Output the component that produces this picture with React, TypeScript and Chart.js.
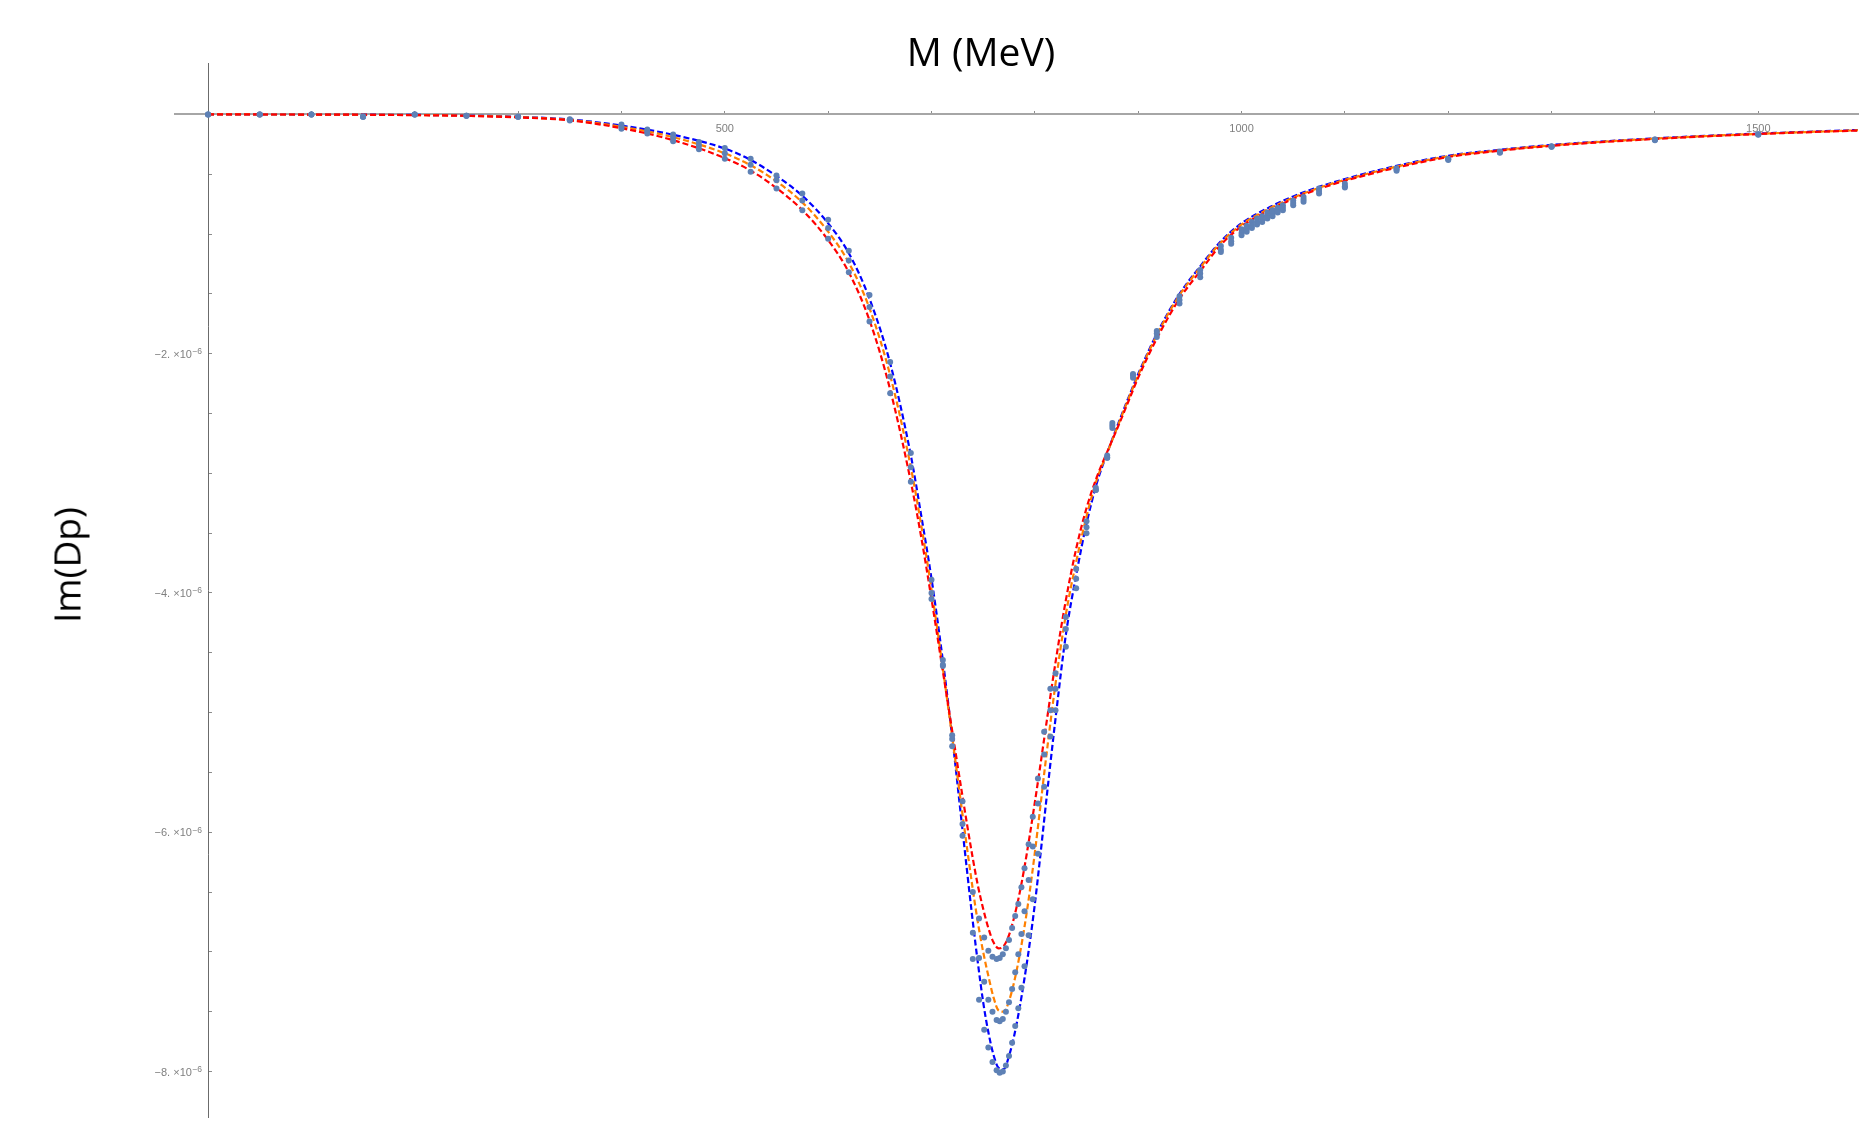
import React, { useEffect, useRef } from "react";
import { Chart, registerables } from "chart.js";

Chart.register(...registerables);

// Invariant mass M (MeV) where the three fitted curves are sampled
const curveM = [0, 100, 200, 250, 300, 350, 400, 450, 500, 525, 550, 575, 600, 620, 640, 660, 680, 690, 700,
  710, 720, 730, 740, 745, 750, 755, 760, 765, 770, 775, 780, 785, 790, 795, 800, 805, 810, 820, 830,
  840, 850, 860, 870, 880, 890, 900, 920, 940, 960, 980, 1000, 1025, 1050, 1075, 1100, 1150, 1200, 1250,
  1300, 1400, 1500, 1597];

// Im(Dp) in units of 1e-6
const curveBlue = [0, -0.001, -0.004, -0.009, -0.02, -0.042, -0.093, -0.17, -0.285, -0.38, -0.515, -0.68, -0.91,
  -1.16, -1.54, -2.08, -2.85, -3.35, -3.88, -4.5, -5.2, -5.98, -6.75, -7.1, -7.42, -7.67, -7.86, -7.97, -7.98,
  -7.87, -7.7, -7.48, -7.22, -6.93, -6.6, -6.22, -5.82, -5.05, -4.35, -3.85, -3.42, -3.08, -2.83, -2.6, -2.38,
  -2.17, -1.8, -1.5, -1.27, -1.06, -0.91, -0.785, -0.685, -0.605, -0.54, -0.43, -0.345, -0.295, -0.255, -0.2,
  -0.16, -0.13];

const curveOrange = [0, -0.001, -0.005, -0.01, -0.022, -0.046, -0.103, -0.19, -0.325, -0.425, -0.56, -0.735, -0.98,
  -1.24, -1.62, -2.18, -2.95, -3.43, -3.97, -4.57, -5.2, -5.85, -6.48, -6.76, -7.0, -7.2, -7.38, -7.49, -7.5,
  -7.41, -7.25, -7.04, -6.79, -6.5, -6.17, -5.81, -5.44, -4.76, -4.18, -3.74, -3.36, -3.05, -2.83, -2.61, -2.39,
  -2.18, -1.81, -1.51, -1.28, -1.07, -0.92, -0.795, -0.695, -0.613, -0.547, -0.436, -0.35, -0.299, -0.258, -0.202,
  -0.162, -0.132];

const curveRed = [0, -0.001, -0.006, -0.012, -0.025, -0.05, -0.115, -0.215, -0.365, -0.47, -0.615, -0.8, -1.05,
  -1.32, -1.72, -2.3, -3.07, -3.53, -4.05, -4.6, -5.15, -5.7, -6.22, -6.45, -6.64, -6.8, -6.92, -6.97, -6.95,
  -6.86, -6.71, -6.52, -6.29, -6.03, -5.75, -5.46, -5.16, -4.58, -4.06, -3.63, -3.29, -3.03, -2.82, -2.62, -2.41,
  -2.2, -1.84, -1.54, -1.31, -1.09, -0.935, -0.81, -0.705, -0.622, -0.555, -0.445, -0.356, -0.303, -0.262, -0.205,
  -0.164, -0.134];

// Data points: M (MeV) and three sets of Im(Dp) (units of 1e-6)
const pointM = [0, 50, 100, 150, 200, 250, 300, 350, 400, 425, 450, 475, 500, 525, 550, 575, 600, 620, 640, 660,
  680, 700, 711, 720, 730, 740, 746, 751, 755, 759, 763, 766, 769, 772, 775, 778, 781, 784, 787, 790, 794, 798,
  803, 809, 815, 820, 830, 840, 850, 859, 870, 875, 895, 918, 940, 960, 980, 990, 1000, 1005, 1010, 1015, 1020,
  1025, 1030, 1035, 1040, 1050, 1060, 1075, 1100, 1150, 1200, 1250, 1300, 1400, 1500];

const pointSetA = [0, 0, 0, -0.02, 0, -0.01, -0.02, -0.04, -0.085, -0.125, -0.167, -0.23, -0.28, -0.37, -0.51,
  -0.66, -0.88, -1.14, -1.51, -2.07, -2.83, -3.89, -4.56, -5.28, -6.03, -7.06, -7.4, -7.65, -7.8, -7.92, -7.99,
  -8.01, -8.0, -7.95, -7.87, -7.76, -7.62, -7.47, -7.3, -7.12, -6.86, -6.56, -6.18, -5.62, -5.2, -4.98, -4.45,
  -3.96, -3.5, -3.14, -2.87, -2.62, -2.17, -1.81, -1.52, -1.3, -1.1, -1.03, -0.96, -0.93, -0.9, -0.87, -0.85,
  -0.82, -0.8, -0.78, -0.76, -0.72, -0.69, -0.62, -0.58, -0.45, -0.37, -0.31, -0.265, -0.21, -0.165];

const pointSetB = [0, 0, 0, -0.02, 0, -0.01, -0.02, -0.045, -0.1, -0.14, -0.194, -0.26, -0.325, -0.42, -0.55,
  -0.72, -0.95, -1.22, -1.61, -2.19, -2.95, -4.0, -4.6, -5.22, -5.93, -6.84, -7.05, -7.25, -7.4, -7.5, -7.57,
  -7.58, -7.56, -7.5, -7.42, -7.31, -7.17, -7.02, -6.85, -6.66, -6.4, -6.12, -5.76, -5.35, -4.98, -4.8, -4.3,
  -3.88, -3.45, -3.14, -2.87, -2.6, -2.18, -1.83, -1.55, -1.33, -1.13, -1.06, -0.99, -0.96, -0.93, -0.9, -0.88,
  -0.85, -0.83, -0.8, -0.78, -0.74, -0.71, -0.64, -0.6, -0.46, -0.375, -0.315, -0.27, -0.21, -0.165];

const pointSetC = [0, 0, 0, -0.02, 0, -0.01, -0.02, -0.05, -0.12, -0.16, -0.225, -0.29, -0.37, -0.48, -0.62,
  -0.8, -1.04, -1.32, -1.73, -2.33, -3.07, -4.05, -4.61, -5.19, -5.74, -6.5, -6.72, -6.88, -6.99, -7.04, -7.06,
  -7.05, -7.02, -6.97, -6.9, -6.8, -6.7, -6.6, -6.46, -6.3, -6.1, -5.87, -5.55, -5.16, -4.8, -4.67, -4.2,
  -3.8, -3.4, -3.12, -2.85, -2.58, -2.2, -1.86, -1.58, -1.36, -1.15, -1.08, -1.01, -0.98, -0.95, -0.92, -0.9,
  -0.87, -0.85, -0.82, -0.8, -0.76, -0.73, -0.66, -0.61, -0.47, -0.38, -0.32, -0.27, -0.215, -0.17];

// Tick labels
const xTickLabels = [500, 1000, 1500];
const yTickLabels = [-2, -4, -6, -8]; // mantissas, shown as "−2. ×10⁻⁶"
const yTickExponent = "\u22126";

const toXY = (xs: number[], ys: number[]) => xs.map((x, i) => ({ x, y: ys[i] }));

const zeroPad = (scale: any) => {
  scale.paddingLeft = 0;
  scale.paddingRight = 0;
  scale.paddingTop = 0;
  scale.paddingBottom = 0;
};

const TICK_FONT = "'Liberation Sans', Arial, sans-serif";

// Draws the Mathematica-style "−2. ×10⁻⁶" labels with a real raised exponent, at the y scale's tick positions
const yLabelPlugin = {
  id: "yMathLabels",
  afterDraw(chart: any) {
    const ys = chart.scales.y;
    const xs = chart.scales.x;
    const ctx = chart.ctx;
    const axisX = xs.getPixelForValue(0);
    ctx.save();
    ctx.fillStyle = "#7f7f7f";
    ctx.textBaseline = "alphabetic";
    ctx.textAlign = "right";
    for (const v of yTickLabels) {
      const py = ys.getPixelForValue(v);
      const right = axisX - 6;
      ctx.font = `8.5px ${TICK_FONT}`;
      const supW = ctx.measureText(yTickExponent).width;
      ctx.fillText(yTickExponent, right, py + 0.5);
      ctx.font = `11px ${TICK_FONT}`;
      ctx.fillText(`\u2212${Math.abs(v)}. \u00d710`, right - supW - 0.5, py + 4);
    }
    ctx.restore();
  },
};

export default function App() {
  const canvasRef = useRef<HTMLCanvasElement>(null);

  useEffect(() => {
    const canvas = canvasRef.current;
    if (!canvas) return;
    const dashed = (label: string, color: string, ys: number[]) => ({
      label,
      data: toXY(curveM, ys),
      showLine: true,
      borderColor: color,
      backgroundColor: color,
      borderWidth: 2.2,
      borderDash: [6, 3],
      pointRadius: 0,
      cubicInterpolationMode: "monotone" as const,
      fill: false,
    });
    const chart = new Chart(canvas, {
      type: "scatter",
      data: {
        datasets: [
          {
            label: "data",
            data: [
              ...toXY(pointM, pointSetA),
              ...toXY(pointM, pointSetB),
              ...toXY(pointM, pointSetC),
            ],
            showLine: false,
            pointRadius: 3,
            pointBorderWidth: 0,
            pointBackgroundColor: "#5E81B5",
            backgroundColor: "#5E81B5",
          },
          dashed("red", "#ff0000", curveRed),
          dashed("orange", "#ff8000", curveOrange),
          dashed("blue", "#0000ff", curveBlue),
        ] as any,
      },
      options: {
        animation: false,
        responsive: false,
        layout: { padding: { left: 175, top: 63, right: 0, bottom: 0 } },
        plugins: { legend: { display: false }, tooltip: { enabled: false }, title: { display: false } },
        scales: {
          x: {
            type: "linear",
            axis: "x",
            position: { y: 0 } as any,
            min: -32,
            max: 1596.5,
            afterFit: zeroPad,
            border: { display: true, color: "#a6a6a6", width: 2 },
            grid: { drawOnChartArea: false, drawTicks: true, tickLength: -4, color: "#8c8c8c", lineWidth: 1 },
            ticks: {
              stepSize: 100,
              includeBounds: false,
              autoSkip: false,
              maxRotation: 0,
              padding: 12,
              color: "#7f7f7f",
              font: { family: TICK_FONT, size: 11 },
              callback: (v: any) => (xTickLabels.includes(Math.round(Number(v))) ? String(Math.round(Number(v))) : ""),
            },
          },
          y: {
            type: "linear",
            axis: "y",
            position: { x: 0 } as any,
            min: -8.38,
            max: 0.43,
            afterFit: zeroPad,
            border: { display: true, color: "#6b6b6b", width: 1 },
            grid: { drawOnChartArea: false, drawTicks: true, tickLength: -4, color: "#8c8c8c", lineWidth: 1 },
            ticks: {
              stepSize: 0.5,
              includeBounds: false,
              autoSkip: false,
              padding: 8,
              color: "#7f7f7f",
              font: { family: TICK_FONT, size: 11 },
              callback: () => "",
            },
          },
        },
      } as any,
      plugins: [yLabelPlugin],
    });
    return () => chart.destroy();
  }, []);

  return (
    <div style={{ position: "absolute", left: 0, top: 0, width: 1862, height: 1121, background: "#fff", overflow: "hidden" }}>
      <canvas ref={canvasRef} width={1862} height={1121} style={{ display: "block", width: 1862, height: 1121 }} />
      <div
        style={{
          position: "absolute",
          left: 981,
          top: 50,
          transform: "translate(-50%, -50%)",
          fontFamily: "'Open Sans', 'Noto Sans', sans-serif",
          fontSize: 39,
          lineHeight: "39px",
          color: "#000",
          whiteSpace: "nowrap",
        }}
      >
        M (MeV)
      </div>
      <div
        style={{
          position: "absolute",
          left: 66,
          top: 565,
          transform: "translate(-50%, -50%) rotate(-90deg)",
          fontFamily: "'Open Sans', 'Noto Sans', sans-serif",
          fontSize: 37,
          lineHeight: "37px",
          color: "#000",
          whiteSpace: "nowrap",
        }}
      >
        Im(Dp)
      </div>
    </div>
  );
}
